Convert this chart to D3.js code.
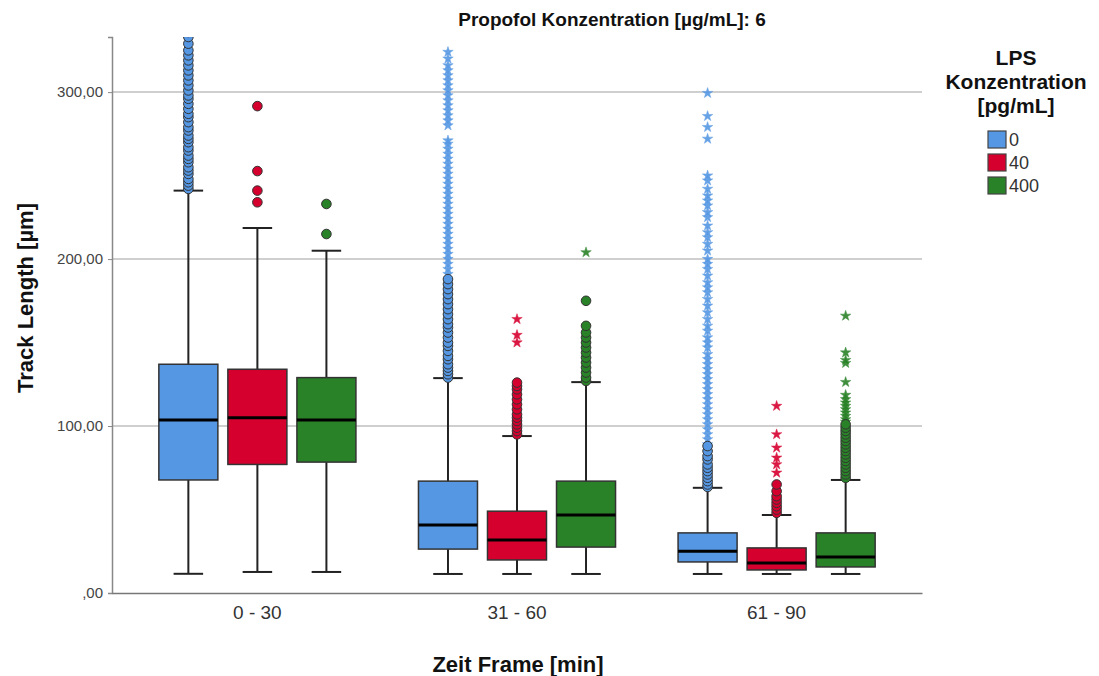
<!DOCTYPE html>
<html>
<head>
<meta charset="utf-8">
<script src="https://d3js.org/d3.v7.min.js"></script>
<style>
  body { margin: 0; background: #fff; }
  text { font-family: Arial, "Liberation Sans", sans-serif; }
</style>
</head>
<body>
<div id="chart"></div>
<script>
// time frames on the x axis, LPS concentrations as series
var frames = ["0 - 30", "31 - 60", "61 - 90"];
var lps = ["0", "40", "400"];
var colors = ["#5597E3", "#D6002F", "#2A8228"];
var yTicks = [0, 100, 200, 300];

// box stats per frame: [whiskerLow, q1, median, q3, whiskerHigh], one row per LPS series
var stats0 = [[11.5, 67.7, 103.6, 137, 241], [12.6, 77, 105, 134, 218.6], [12.6, 78.4, 103.6, 129, 205]];
var stats31 = [[11.4, 26.3, 40.7, 67, 128.7], [11.4, 19.8, 31.7, 49, 94], [11.4, 27.5, 46.7, 67, 126.3]];
var stats61 = [[11.4, 18.6, 25, 36, 63], [11.4, 13.8, 18, 27, 46.7], [11.4, 15.6, 21.6, 36, 67.7]];

// outliers (circles) and extremes (stars)
var out0 = [
  [242, 244, 246, 248, 251, 253, 255, 258, 260, 262, 265, 267, 270, 272, 274, 277, 279, 282, 285, 287, 290, 293, 296, 298, 301, 304, 307, 310, 313, 316, 319, 322, 325, 329, 333, 336],
  [291.6, 252.7, 241, 234],
  [233, 215]
];
var ext0 = [[], [], []];
var out31 = [
  [129, 131, 133, 135, 137, 140, 142, 145, 148, 150, 153, 156, 159, 161, 164, 167, 170, 173, 176, 179, 182, 185, 188],
  [95, 97, 99, 101, 103, 105, 107, 110, 113, 116, 119, 122, 124, 126],
  [127, 129, 132, 135, 138, 141, 144, 147, 150, 153, 156, 160, 175]
];
var ext31 = [
  [191, 194, 197, 200, 203, 206, 209, 212, 215, 218, 221, 224, 227, 230, 233, 236, 239, 242, 245, 248, 251, 254, 257, 260, 263, 266, 269, 271, 280, 283, 286, 289, 292, 295, 298, 301, 304, 307, 310, 313, 316, 320, 324],
  [164, 154.5, 150],
  [204]
];
var out61 = [
  [63.5, 65, 67, 69, 71, 73, 75, 77, 80, 82, 85, 88],
  [48, 50, 52, 54, 56, 58, 61, 65],
  [69, 71, 73, 75, 77, 79, 81, 83, 85, 87, 89, 91, 93, 95, 97, 99, 101]
];
var ext61 = [
  [299.4, 285.6, 279, 272, 250, 247, 242, 238, 235, 232, 228, 225, 220, 216, 213, 209, 205, 200, 197, 194, 190, 186, 183, 180, 176, 172, 168, 164, 160, 157, 153, 150, 147, 143, 140, 137, 134, 131, 128, 125, 122, 119, 116, 113, 110, 107, 104, 101, 98, 95, 92, 89],
  [112, 95, 87, 81, 77, 72],
  [166, 144, 139.5, 137.7, 126.3, 118.6, 116, 114, 112, 110, 108, 106, 104, 102.5]
];

var allStats = [stats0, stats31, stats61];
var allOut = [out0, out31, out61];
var allExt = [ext0, ext31, ext61];

var width = 1099, height = 676;
var margin = {left: 112, right: 177, top: 37, bottom: 83};
var pw = width - margin.left - margin.right;
var ph = height - margin.top - margin.bottom;

var svg = d3.select("#chart").append("svg")
  .attr("width", width).attr("height", height);

var g = svg.append("g").attr("transform", "translate(" + margin.left + "," + margin.top + ")");

var xs = d3.scaleBand().domain(frames).range([0, pw]).paddingInner(0).paddingOuter(0.06);
var xi = d3.scaleBand().domain(lps).range([0, xs.bandwidth()]).paddingInner(0.145).paddingOuter(0.453);
var ys = d3.scaleLinear().domain([0, 333]).range([ph, 0]);

g.append("defs").append("clipPath").attr("id", "clip")
  .append("rect").attr("x", -10).attr("y", 0).attr("width", pw + 20).attr("height", ph);

// grid lines
g.selectAll(".grid").data(yTicks.slice(1)).enter().append("line")
  .attr("x1", 0).attr("x2", pw)
  .attr("y1", function(d) { return ys(d); }).attr("y2", function(d) { return ys(d); })
  .attr("stroke", "#cfcfcf").attr("stroke-width", 2);

// y axis
var yAxis = g.append("g")
  .call(d3.axisLeft(ys).tickValues(yTicks).tickSize(4).tickPadding(5)
    .tickFormat(function(d) { return d === 0 ? ",00" : d + ",00"; }));
yAxis.select(".domain").attr("stroke", "#888").attr("stroke-width", 1.5);
yAxis.selectAll(".tick line").attr("stroke", "#888");
yAxis.selectAll(".tick text").attr("fill", "#444").style("font-size", "15px");

// x axis
var xAxis = g.append("g").attr("transform", "translate(0," + ph + ")")
  .call(d3.axisBottom(xs).tickSize(0).tickPadding(13));
xAxis.select(".domain").attr("stroke", "#777").attr("stroke-width", 1.5);
xAxis.selectAll(".tick text").attr("fill", "#333").style("font-size", "19px");

var plot = g.append("g").attr("clip-path", "url(#clip)");
var star = d3.symbol().type(d3.symbolStar).size(34);

frames.forEach(function(f, fi) {
  lps.forEach(function(s, si) {
    var st = allStats[fi][si];
    var cx = xs(f) + xi(s) + xi.bandwidth() / 2;
    var bw = xi.bandwidth();
    var grp = plot.append("g");
    // whisker line
    grp.append("line").attr("x1", cx).attr("x2", cx)
      .attr("y1", ys(st[0])).attr("y2", ys(st[4]))
      .attr("stroke", "#222").attr("stroke-width", 2);
    // caps
    [st[0], st[4]].forEach(function(v) {
      grp.append("line").attr("x1", cx - bw / 4).attr("x2", cx + bw / 4)
        .attr("y1", ys(v)).attr("y2", ys(v))
        .attr("stroke", "#222").attr("stroke-width", 2);
    });
    // box
    grp.append("rect").attr("x", cx - bw / 2).attr("width", bw)
      .attr("y", ys(st[3])).attr("height", ys(st[1]) - ys(st[3]))
      .attr("fill", colors[si]).attr("stroke", "#333").attr("stroke-width", 1.5);
    // median
    grp.append("line").attr("x1", cx - bw / 2).attr("x2", cx + bw / 2)
      .attr("y1", ys(st[2])).attr("y2", ys(st[2]))
      .attr("stroke", "#000").attr("stroke-width", 3);
    // extremes
    grp.selectAll(".ext").data(allExt[fi][si]).enter().append("path")
      .attr("d", star)
      .attr("transform", function(d) { return "translate(" + cx + "," + ys(d) + ")"; })
      .attr("fill", colors[si]).attr("stroke", colors[si]).attr("stroke-width", 0.5)
      .attr("opacity", 0.9);
    // outliers
    grp.selectAll(".out").data(allOut[fi][si]).enter().append("circle")
      .attr("cx", cx).attr("cy", function(d) { return ys(d); }).attr("r", 4.8)
      .attr("fill", colors[si]).attr("stroke", "#333").attr("stroke-width", 1);
  });
});

// titles
svg.append("text").attr("x", 612).attr("y", 26).attr("text-anchor", "middle")
  .style("font-size", "19px").style("font-weight", "bold").attr("fill", "#111")
  .text("Propofol Konzentration [µg/mL]: 6");

svg.append("text").attr("transform", "translate(33," + 298 + ") rotate(-90)")
  .attr("text-anchor", "middle").style("font-size", "22px").style("font-weight", "bold")
  .attr("fill", "#111").text("Track Length [µm]");

svg.append("text").attr("x", 518).attr("y", 672).attr("text-anchor", "middle")
  .style("font-size", "22px").style("font-weight", "bold").attr("fill", "#111")
  .text("Zeit Frame [min]");

// legend
var leg = svg.append("g");
["LPS", "Konzentration", "[pg/mL]"].forEach(function(t, i) {
  leg.append("text").attr("x", 1016).attr("y", 65 + i * 24).attr("text-anchor", "middle")
    .style("font-size", "21px").style("font-weight", "bold").attr("fill", "#111").text(t);
});
lps.forEach(function(s, i) {
  leg.append("rect").attr("x", 988).attr("y", 131 + i * 23).attr("width", 18).attr("height", 17)
    .attr("fill", colors[i]).attr("stroke", "#444").attr("stroke-width", 1.2);
  leg.append("text").attr("x", 1009).attr("y", 146 + i * 23)
    .style("font-size", "18px").attr("fill", "#333").text(s);
});
</script>
</body>
</html>
